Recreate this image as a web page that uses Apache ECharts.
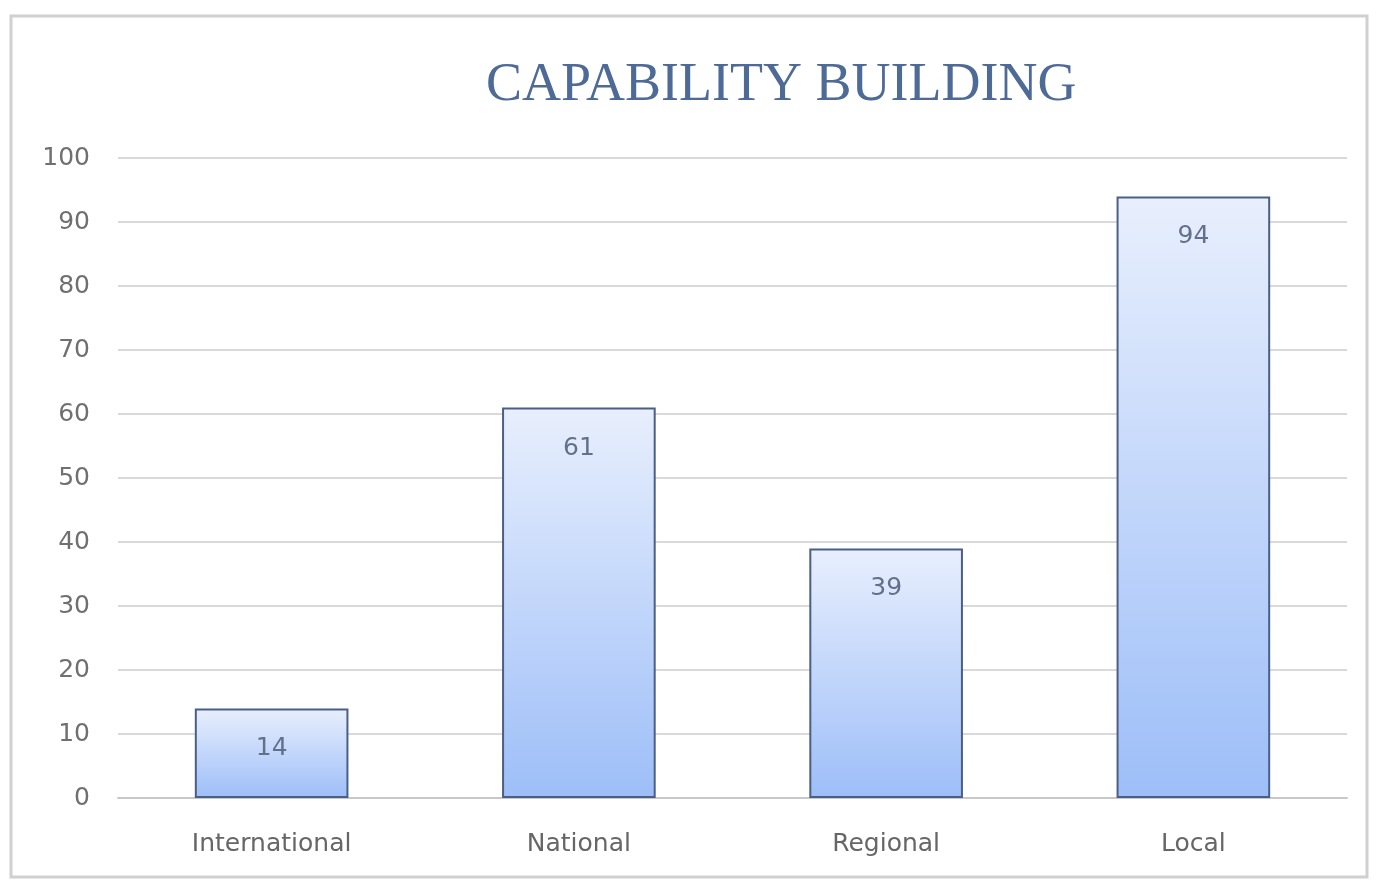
<!DOCTYPE html>
<html>
<head>
<meta charset="utf-8">
<title>Capability Building</title>
<script src="https://cdn.jsdelivr.net/npm/echarts@6/dist/echarts.min.js"></script>
<style>
  html, body { margin: 0; padding: 0; background: #fff; }
  #chart { width: 1378px; height: 882px; }
</style>
</head>
<body>
<div id="chart"></div>
<script>
// 数据
var categories = ['International', 'National', 'Regional', 'Local'];
var values = [14, 61, 39, 94];
var yTicks = { min: 0, max: 100, interval: 10 };

var myChart = echarts.init(document.getElementById('chart'));

var labelFont = 'DejaVu Sans, Liberation Sans, sans-serif';

var option = {
    backgroundColor: '#ffffff',
    animation: false,
    graphic: [{
        type: 'rect',
        shape: { x: 11, y: 16, width: 1356, height: 861 },
        style: { fill: 'none', stroke: '#d0d0d0', lineWidth: 3 },
        silent: true
    }],
    title: {
        text: 'CAPABILITY BUILDING',
        left: 481,
        top: 54,
        textStyle: {
            fontFamily: 'Liberation Serif, DejaVu Serif, serif',
            fontSize: 54,
            fontWeight: 'normal',
            color: '#4e6a96'
        }
    },
    grid: {
        left: 118,
        right: 31,
        top: 158,
        bottom: 84,
        containLabel: false
    },
    xAxis: {
        type: 'category',
        data: categories,
        axisTick: { show: false },
        axisLine: { lineStyle: { color: '#c8c8c8', width: 2 } },
        axisLabel: {
            margin: 34,
            fontSize: 25,
            fontFamily: labelFont,
            color: '#666666'
        }
    },
    yAxis: {
        type: 'value',
        min: yTicks.min,
        max: yTicks.max,
        interval: yTicks.interval,
        axisLine: { show: false },
        axisTick: { show: false },
        splitLine: { lineStyle: { color: '#d9d9d9', width: 2 } },
        axisLabel: {
            margin: 28,
            fontSize: 25,
            fontFamily: labelFont,
            color: '#707070'
        }
    },
    series: [{
        type: 'bar',
        data: values,
        barWidth: '50%',
        itemStyle: {
            color: new echarts.graphic.LinearGradient(0, 0, 0, 1, [
                { offset: 0, color: '#e8effd' },
                { offset: 1, color: '#9dbef8' }
            ]),
            borderColor: '#4b5f85',
            borderWidth: 2
        },
        label: {
            show: true,
            position: 'insideTop',
            distance: 28,
            fontSize: 25,
            fontFamily: labelFont,
            color: '#63708c'
        }
    }]
};

myChart.setOption(option);
</script>
</body>
</html>
